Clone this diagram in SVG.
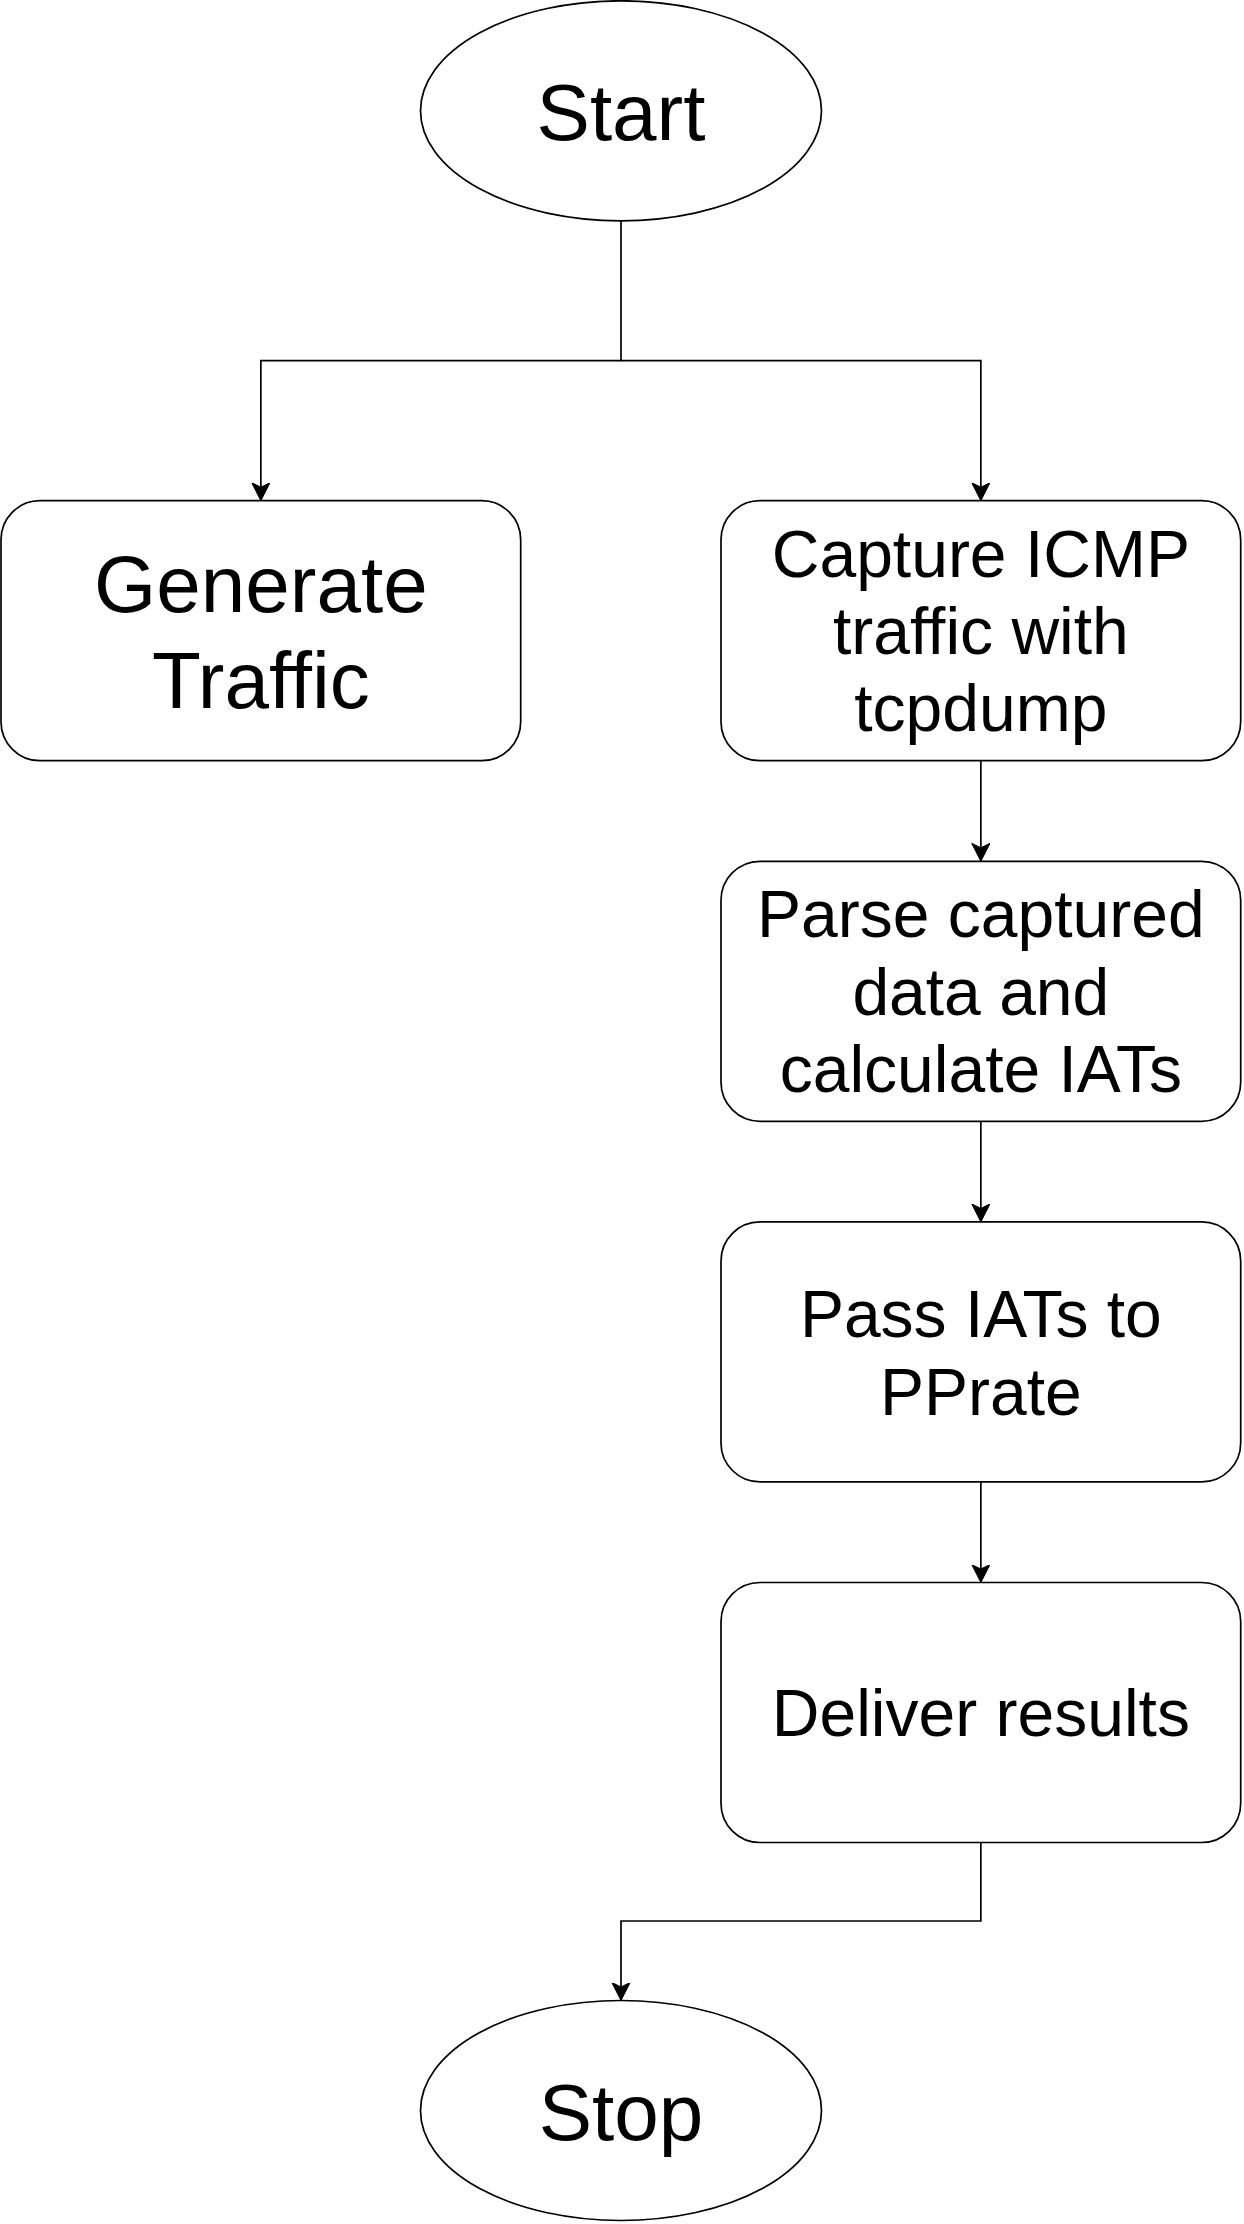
<svg xmlns="http://www.w3.org/2000/svg" width="1244" height="2224" viewBox="0 0 1244 2224">
  <style>
    .shape { fill: #ffffff; stroke: #000000; stroke-width: 1.7; }
    .edge { fill: none; stroke: #000000; stroke-width: 1.7; }
    .big { font-family: "Liberation Sans", Arial, sans-serif; font-size: 80px; fill: #000000; text-anchor: middle; }
    .mid { font-family: "Liberation Sans", Arial, sans-serif; font-size: 66px; fill: #000000; text-anchor: middle; }
  </style>
  <defs>
    <marker id="arrow" markerUnits="userSpaceOnUse" markerWidth="20" markerHeight="20" refX="18" refY="9.15" orient="auto" viewBox="0 0 20 20">
      <path d="M18 9.15 L0 0 L4.5 9.15 L0 18.3 Z" fill="#000000" stroke="#000000" stroke-width="1"/>
    </marker>
  </defs>
  <rect width="1244" height="2224" fill="#ffffff"/>

  <g id="connectors">
    <path class="edge" d="M621 220.8 V360.7 H260.85 V500.7" marker-end="url(#arrow)"/>
    <path class="edge" d="M621 360.7 H980.85 V500.7" marker-end="url(#arrow)"/>
    <path class="edge" d="M980.85 760.7 V861.3" marker-end="url(#arrow)"/>
    <path class="edge" d="M980.85 1121.3 V1221.9" marker-end="url(#arrow)"/>
    <path class="edge" d="M980.85 1481.9 V1582.5" marker-end="url(#arrow)"/>
    <path class="edge" d="M980.85 1842.5 V1921 H621 V2000.5" marker-end="url(#arrow)"/>
  </g>

  <g id="start">
    <ellipse class="shape" cx="621" cy="110.8" rx="200.5" ry="110"/>
    <text class="big" x="621" y="140">Start</text>
  </g>

  <g id="generate-traffic">
    <rect class="shape" x="1" y="500.7" width="519.7" height="260" rx="39" ry="39"/>
    <text class="big" x="260.85" y="612">Generate</text>
    <text class="big" x="260.85" y="708">Traffic</text>
  </g>

  <g id="capture">
    <rect class="shape" x="721" y="500.7" width="519.7" height="260" rx="39" ry="39"/>
    <text class="mid" x="980.85" y="577">Capture ICMP</text>
    <text class="mid" x="980.85" y="654">traffic with</text>
    <text class="mid" x="980.85" y="731">tcpdump</text>
  </g>

  <g id="parse">
    <rect class="shape" x="721" y="861.3" width="519.7" height="260" rx="39" ry="39"/>
    <text class="mid" x="980.85" y="937">Parse captured</text>
    <text class="mid" x="980.85" y="1014.5">data and</text>
    <text class="mid" x="980.85" y="1092">calculate IATs</text>
  </g>

  <g id="pass">
    <rect class="shape" x="721" y="1221.9" width="519.7" height="260" rx="39" ry="39"/>
    <text class="mid" x="980.85" y="1336.5">Pass IATs to</text>
    <text class="mid" x="980.85" y="1414.5">PPrate</text>
  </g>

  <g id="deliver">
    <rect class="shape" x="721" y="1582.5" width="519.7" height="260" rx="39" ry="39"/>
    <text class="mid" x="980.85" y="1735.5">Deliver results</text>
  </g>

  <g id="stop">
    <ellipse class="shape" cx="621" cy="2110.5" rx="200.5" ry="110"/>
    <text class="big" x="621" y="2139.5">Stop</text>
  </g>
</svg>
